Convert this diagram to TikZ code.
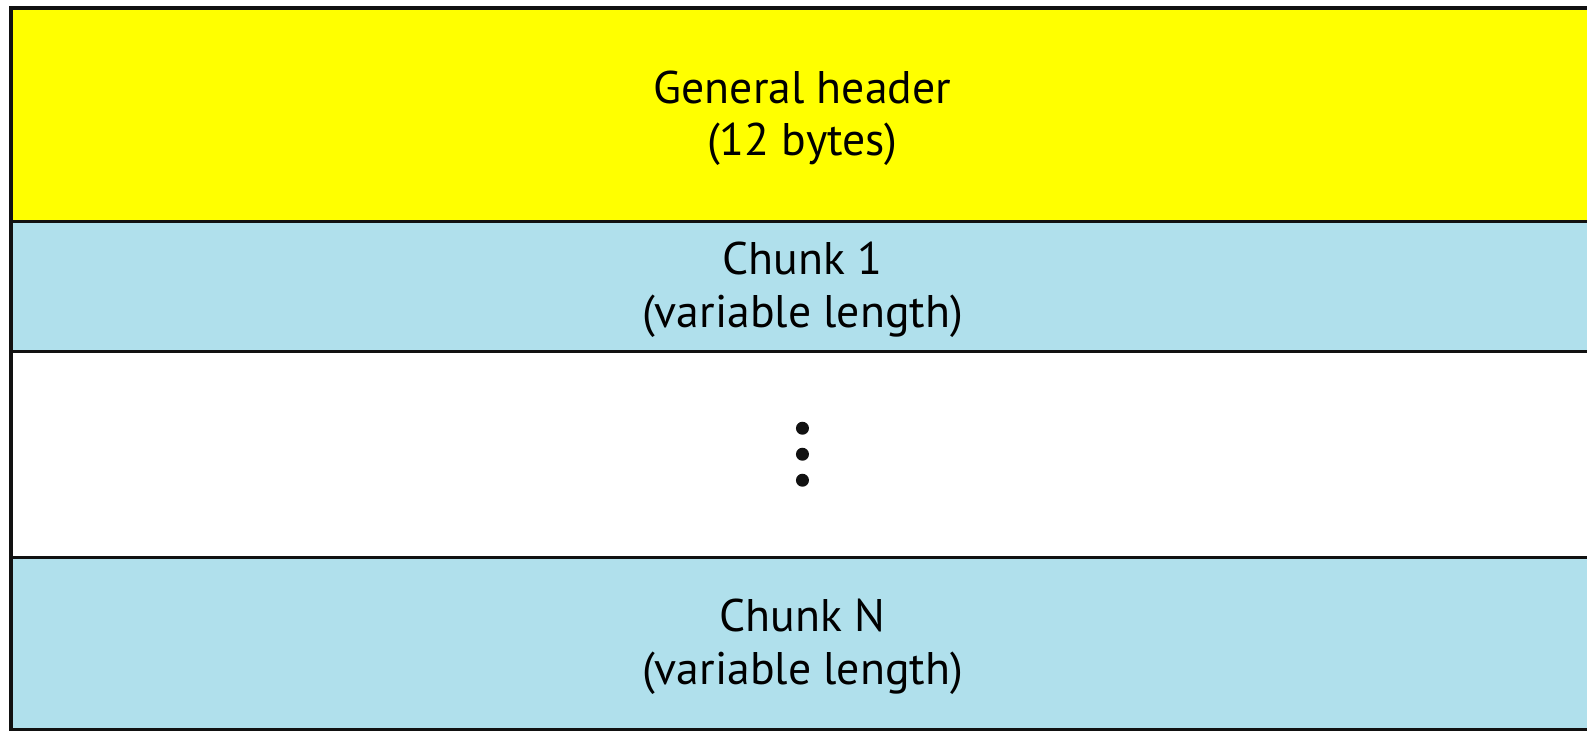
\documentclass[tikz,border=0pt]{standalone}
\usepackage{fontspec}
\setmainfont{PT Sans}
\usetikzlibrary{positioning}
\definecolor{ink}{HTML}{111111}
\definecolor{hdrfill}{HTML}{FFFF00}
\definecolor{chunkfill}{HTML}{B0E0EC}

\begin{document}
\begin{tikzpicture}[x=0.01cm,y=0.01cm,
  field/.style={draw=ink,line width=0.9pt,minimum width=15.82cm,inner sep=0pt,outer sep=0pt,align=center,text depth=0.8pt,font=\fontsize{13}{15}\selectfont}]
\useasboundingbox (0,0) rectangle (1587,734);
\clip (0,0) rectangle (1587,734);
\node[field,fill=hdrfill,minimum height=2.13cm,anchor=north west] (hdr) at (11,726) {General header\\(12 bytes)};
\node[field,fill=chunkfill,minimum height=1.30cm,below=0pt of hdr] (chunkone) {Chunk 1\\(variable length)};
\node[field,fill=white,minimum height=2.06cm,below=0pt of chunkone] (gap) {};
\node[field,fill=chunkfill,minimum height=1.72cm,below=0pt of gap] (chunkn) {Chunk N\\(variable length)};
\foreach \d in {-26,0,26}{\fill[ink] ([yshift=\d*0.01cm]gap.center) circle (6.5);}
\end{tikzpicture}
\end{document}
